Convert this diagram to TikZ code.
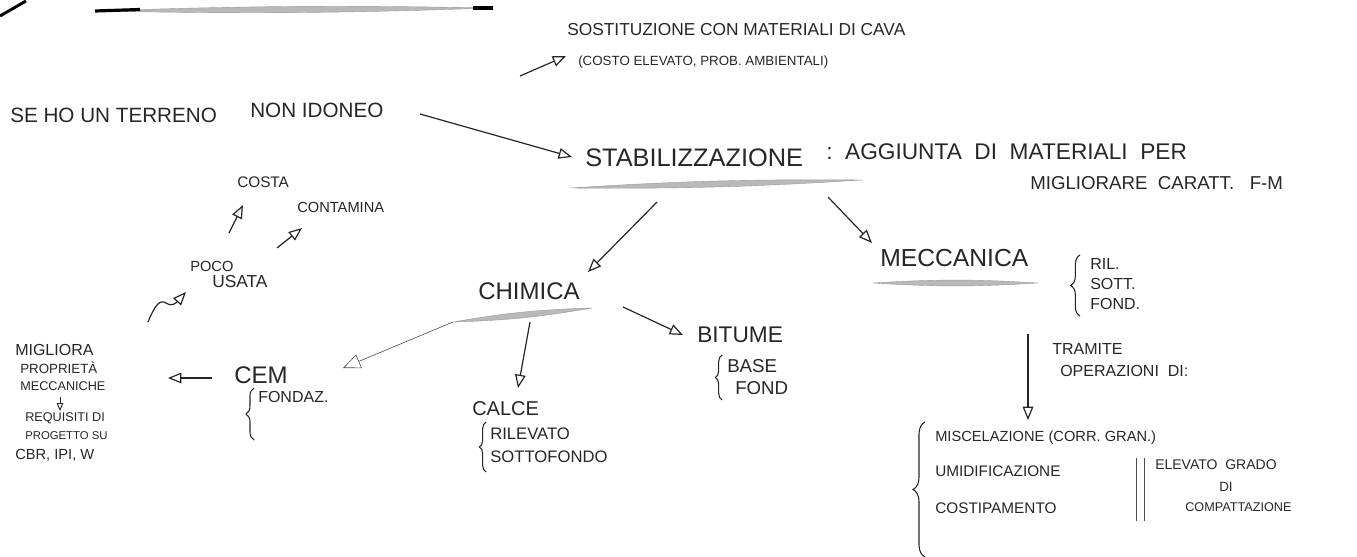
\documentclass[tikz,border=0pt]{standalone}
\usepackage{fontspec}
\setmainfont{Liberation Sans}
\usetikzlibrary{arrows.meta,decorations.pathreplacing}
\newcommand{\fsz}[1]{\fontsize{#1}{#1}\selectfont}
\begin{document}
\begin{tikzpicture}[x=0.75pt,y=-0.75pt,
  txt/.style={anchor=west,inner sep=0pt,text=black!85},
  arr/.style={draw=black!85,line width=0.9pt,-{Triangle[open,length=10pt,width=8pt]}},
  smallarr/.style={draw=black!85,line width=0.7pt,-{Triangle[open,length=6pt,width=5pt]}},
  thinarr/.style={draw=black!70,line width=0.45pt,-{Triangle[open,length=13pt,width=11pt]}},
  brc/.style={draw=black!85,line width=0.8pt,decorate,decoration={brace,amplitude=#1}},
  ul/.style={draw=gray!80,line width=0.3pt,fill=gray!55},
]
\useasboundingbox (0,0) rectangle (1357,557);

% top fragment and title line
\coordinate (tl1) at (0,16); \coordinate (tl2) at (26,1);
\draw[line width=2.2pt] (tl1) -- (tl2);
\coordinate (t1) at (95,11); \coordinate (t2) at (493,8);
\fill[ul] (t1) to[bend left=1.5] (t2) to[bend left=1.5] (t1) -- cycle;
\draw[line width=2.4pt] (t1) -- (140,9.5);
\draw[line width=2.4pt] (473,8) -- (t2);

% left sentence
\node[txt,font=\fsz{15.5pt}] (se) at (10,115) {SE HO UN TERRENO};
\node[txt,font=\fsz{15.5pt}] (nonid) at (250,110) {NON IDONEO};

% sostituzione
\node[txt,font=\fsz{13pt}] (sost) at (567,30) {SOSTITUZIONE CON MATERIALI DI CAVA};
\node[txt,font=\fsz{10pt}] (costo) at (578,62) {(COSTO ELEVATO, PROB. AMBIENTALI)};
\coordinate (a1s) at (520,76); \coordinate (a1e) at (566,56);
\draw[arr] (a1s) -- (a1e);

% stabilizzazione
\node[txt,font=\fsz{19pt}] (stab) at (585,158) {STABILIZZAZIONE};
\coordinate (s1) at (570,188); \coordinate (s2) at (862,180);
\fill[ul] (s1) to[bend left=2] (s2) to[bend left=2] (s1) -- cycle;
\node[txt,font=\fsz{17pt}] (agg) at (826,152) {:\ \ AGGIUNTA\ \ DI\ \ MATERIALI\ \ PER};
\node[txt,font=\fsz{14pt}] (migl) at (1030,183) {MIGLIORARE\ \ CARATT.\ \ \ F-M};
\coordinate (a2s) at (420,114); \coordinate (a2e) at (572,157);
\draw[arr] (a2s) -- (a2e);

% chimica / meccanica
\node[txt,font=\fsz{18pt}] (chim) at (478,291) {CHIMICA};
\coordinate (c1) at (453,322); \coordinate (c2) at (592,308);
\fill[ul] (c1) to[bend left=4] (c2) to[bend left=4] (c1) -- cycle;
\node[txt,font=\fsz{18.5pt}] (mecc) at (880,258) {MECCANICA};
\coordinate (m1) at (873,283); \coordinate (m2) at (1038,283);
\fill[ul] (m1) to[bend left=3.5] (m2) to[bend left=3.5] (m1) -- cycle;
\coordinate (a3s) at (657,202); \coordinate (a3e) at (588,272);
\draw[arr] (a3s) -- (a3e);
\coordinate (a4s) at (828,197); \coordinate (a4e) at (872,243);
\draw[arr] (a4s) -- (a4e);

% meccanica list
\draw[brc=7pt] (1080,316) -- (1080,255);
\node[txt,font=\fsz{12pt}] (ril) at (1090,264) {RIL.};
\node[txt,font=\fsz{12pt}] (sott) at (1090,284) {SOTT.};
\node[txt,font=\fsz{12pt}] (fond) at (1090,304) {FOND.};
\coordinate (a5s) at (1028,334); \coordinate (a5e) at (1028,420);
\draw[arr] (a5s) -- (a5e);
\node[txt,font=\fsz{12pt}] (tram) at (1052,349) {TRAMITE};
\node[txt,font=\fsz{12pt}] (oper) at (1060,371) {OPERAZIONI\ \ DI:};

% operations
\draw[brc=9pt] (925,557) -- (925,422);
\node[txt,font=\fsz{11pt}] (misc) at (935,438) {MISCELAZIONE (CORR. GRAN.)};
\node[txt,font=\fsz{11.5pt}] (umid) at (935,471) {UMIDIFICAZIONE};
\node[txt,font=\fsz{11.5pt}] (cost) at (935,508) {COSTIPAMENTO};
\draw[line width=0.6pt,black!70] (1136,458) -- (1136,521);
\draw[line width=0.6pt,black!70] (1144,458) -- (1144,521);
\node[txt,font=\fsz{10.5pt}] (elev) at (1155,465) {ELEVATO\ \ GRADO};
\node[font=\fsz{10pt},inner sep=0pt,text=black!85] (di) at (1226,487) {DI};
\node[txt,font=\fsz{9.5pt}] (comp) at (1185,507) {COMPATTAZIONE};

% bitume
\coordinate (a6s) at (623,307); \coordinate (a6e) at (683,335);
\draw[arr] (a6s) -- (a6e);
\node[txt,font=\fsz{17pt}] (bit) at (697,335) {BITUME};
\draw[brc=5pt] (722,400) -- (722,355);
\node[txt,font=\fsz{14pt}] (base) at (727,366) {BASE};
\node[txt,font=\fsz{14pt}] (fondb) at (735,388) {FOND};

% calce
\coordinate (a7s) at (530,322); \coordinate (a7e) at (518,388);
\draw[arr] (a7s) -- (a7e);
\node[txt,font=\fsz{15pt}] (calce) at (472,409) {CALCE};
\draw[brc=5pt] (486,472) -- (486,422);
\node[txt,font=\fsz{12.5pt}] (rilev) at (490,434) {RILEVATO};
\node[txt,font=\fsz{12.5pt}] (sottof) at (490,457) {SOTTOFONDO};

% cem
\coordinate (a8e) at (343,368);
\draw[thinarr] (c1) -- (a8e);
\node[txt,font=\fsz{18pt}] (cem) at (234,375) {CEM};
\draw[brc=6pt] (254,440) -- (254,388);
\node[txt,font=\fsz{12pt}] (fondaz) at (258,397) {FONDAZ.};
\coordinate (a9s) at (212,378); \coordinate (a9e) at (168,378);
\draw[arr] (a9s) -- (a9e);

% migliora
\node[txt,font=\fsz{12pt}] (migliora) at (15,350) {MIGLIORA};
\node[txt,font=\fsz{10pt}] (propr) at (20,368) {PROPRIETÀ};
\node[txt,font=\fsz{9.5pt}] (meccan) at (20,386) {MECCANICHE};
\coordinate (a10s) at (60,397); \coordinate (a10e) at (60,411);
\draw[smallarr] (a10s) -- (a10e);
\node[txt,font=\fsz{9.5pt}] (req) at (25,418) {REQUISITI DI};
\node[txt,font=\fsz{8.5pt}] (prog) at (25,436) {PROGETTO SU};
\node[txt,font=\fsz{11pt}] (cbr) at (15,455) {CBR, IPI, W};

% poco usata
\coordinate (sq1) at (148,322); \coordinate (sq2) at (186,292);
\draw[arr] (sq1) .. controls (155,305) and (160,299) .. (166,303) .. controls (172,307) and (176,303) .. (sq2);
\node[txt,font=\fsz{11pt}] (poco) at (190,266) {POCO};
\node[txt,font=\fsz{13pt}] (usata) at (212,282) {USATA};
\coordinate (a11s) at (229,233); \coordinate (a11e) at (243,205);
\draw[arr] (a11s) -- (a11e);
\node[txt,font=\fsz{11.5pt}] (costa) at (237,182) {COSTA};
\coordinate (a12s) at (277,248); \coordinate (a12e) at (302,228);
\draw[arr] (a12s) -- (a12e);
\node[txt,font=\fsz{11pt}] (contam) at (297,207) {CONTAMINA};
\end{tikzpicture}
\end{document}
